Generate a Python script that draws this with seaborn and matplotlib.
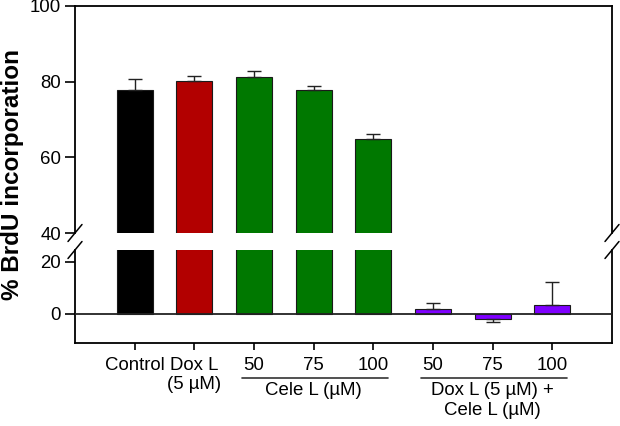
import numpy as np
import pandas as pd
import matplotlib
matplotlib.use("Agg")
import matplotlib.pyplot as plt
import matplotlib.transforms as mtransforms
import seaborn as sns

# ---- data ----
categories = ["Control", "Dox L", "Cele 50", "Cele 75", "Cele 100",
              "Combo 50", "Combo 75", "Combo 100"]
values = [77.8, 80.3, 81.2, 77.8, 64.9, 1.7, -1.9, 3.5]
errors = [3.0, 1.1, 1.6, 1.1, 1.3, 2.4, 1.1, 8.9]
tick_labels = ["Control", "Dox L\n(5 µM)", "50", "75", "100", "50", "75", "100"]
bar_colors = ["#000000", "#b20000", "#007800", "#007800", "#007800",
              "#7f00ff", "#7f00ff", "#7f00ff"]
group_labels = ["Cele L (µM)", "Dox L (5 µM) +\nCele L (µM)"]
group_members = [[2, 3, 4], [5, 6, 7]]

sns.set_theme(style="white")
plt.rcParams["font.family"] = ["Liberation Sans", "DejaVu Sans"]
plt.rcParams["text.color"] = "black"

df = pd.DataFrame({"cat": categories, "val": values})

W, H = 620, 426
fig = plt.figure(figsize=(W / 100, H / 100), dpi=100)
left, right = 75 / W, 612 / W
ax_top = fig.add_axes([left, 1 - 233 / H, right - left, (233 - 6) / H])
ax_bot = fig.add_axes([left, 1 - 343 / H, right - left, (343 - 250) / H])

x = np.arange(len(categories))
lower = [e if v < 0 else 0 for v, e in zip(values, errors)]
upper = [e if v >= 0 else 0 for v, e in zip(values, errors)]

for ax in (ax_top, ax_bot):
    sns.barplot(data=df, x="cat", y="val", hue="cat", order=categories,
                hue_order=categories, palette=bar_colors, legend=False,
                width=0.6, saturation=1, edgecolor="#1a1a1a", linewidth=0.8,
                errorbar=None, ax=ax)
    ax.errorbar(x, values, yerr=[lower, upper], fmt="none", ecolor="#222222",
                elinewidth=1.0, capsize=5, capthick=1.0, zorder=1)
    ax.set_xlim(-1, 8)
    ax.set_xlabel("")
    ax.set_ylabel("")
    for s in ax.spines.values():
        s.set_color("black")
        s.set_linewidth(1.3)
    ax.tick_params(axis="y", direction="out", length=7, width=1.2,
                   labelsize=13.4, colors="black", left=True, pad=3)

ax_top.set_ylim(40, 100)
ax_top.set_yticks([40, 60, 80, 100])
ax_top.spines["bottom"].set_visible(False)
ax_top.tick_params(axis="x", bottom=False, labelbottom=False)

ax_bot.set_ylim(-11.2, 24.6)
ax_bot.set_yticks([0, 20])
ax_bot.spines["top"].set_visible(False)
ax_bot.axhline(0, color="#222222", lw=1.3, zorder=3)
ax_bot.set_xticks(x)
ax_bot.set_xticklabels(tick_labels)
ax_bot.tick_params(axis="x", direction="out", length=5, width=1.2,
                   bottom=True, labelsize=13.4, colors="black", pad=5)

# group labels with lines
trans = mtransforms.blended_transform_factory(ax_bot.transData, fig.transFigure)
for lab, mem in zip(group_labels, group_members):
    x0, x1 = mem[0] - 0.2, mem[-1] + 0.25
    ax_bot.plot([x0, x1], [1 - 378 / H] * 2, color="#333333", lw=1.2,
                transform=trans, clip_on=False)
    ax_bot.text((mem[0] + mem[-1]) / 2, 1 - 382 / H, lab, transform=trans,
                ha="center", va="top", fontsize=13.4, linespacing=1.2,
                color="black")

# break marks
def slash(xc, yc):
    dx, dy = 7 / W, 8.5 / H
    fig.add_artist(plt.Line2D([xc - dx, xc + dx], [yc - dy, yc + dy],
                              color="black", lw=1.1))

for xc in (left, right):
    slash(xc, 1 - 233 / H)
    slash(xc, 1 - 250 / H)

fig.text(12.5 / W, 1 - 175 / H, "% BrdU incorporation", rotation=90,
         ha="center", va="center", fontsize=17.5, fontweight="bold",
         color="black")

fig.savefig("out.png", dpi=100)
